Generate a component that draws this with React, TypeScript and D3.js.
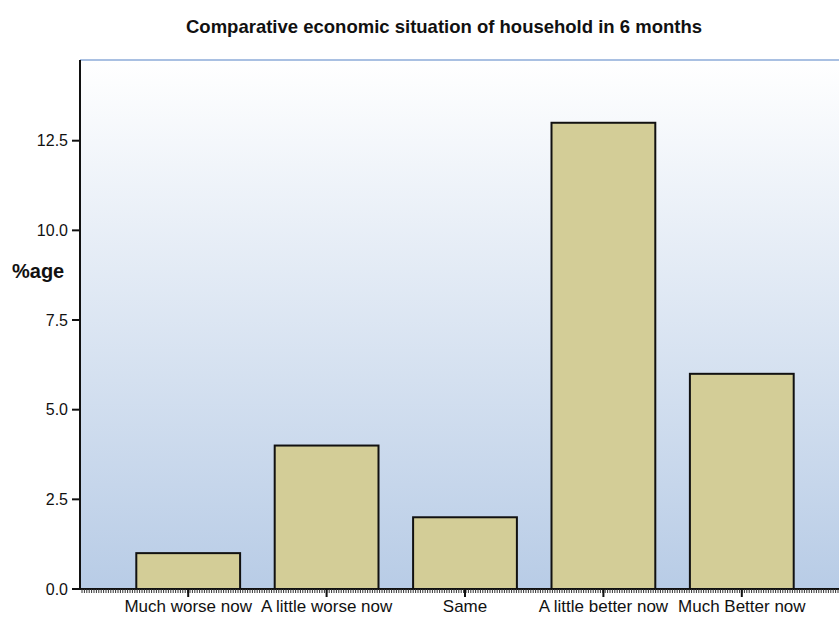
import * as d3 from 'd3';

// values (percent of households)
const categories = ['Much worse now', 'A little worse now', 'Same', 'A little better now', 'Much Better now'];
const percentages = [1, 4, 2, 13, 6];
const yTicks = [0, 2.5, 5, 7.5, 10, 12.5];

const width = 839;
const height = 617;
const plot = { left: 80, right: 839, top: 60, bottom: 589 };

export default function App() {
    const y = d3.scaleLinear().domain([0, 14.75]).range([plot.bottom, plot.top]);
    const x = d3.scaleBand<string>()
        .domain(categories)
        .range([119, 811])
        .paddingInner(0.25)
        .paddingOuter(0.125);

    // tiny minor ticks along the x axis
    const minor = d3.range(plot.left + 2, plot.right, 2.4);

    return (
        <svg width={width} height={height} style={{ position: 'absolute', left: 0, top: 0, fontFamily: '"Liberation Sans", Arial, sans-serif' }}>
            <defs>
                <linearGradient id="bg" x1="0" y1="0" x2="0" y2="1">
                    <stop offset="0%" stopColor="#ffffff" />
                    <stop offset="100%" stopColor="#b8cce6" />
                </linearGradient>
            </defs>
            <rect x={0} y={0} width={width} height={height} fill="#fff" />

            <text x={444} y={33} textAnchor="middle" fontSize={18.5} fontWeight="bold" fill="#111">
                Comparative economic situation of household in 6 months
            </text>

            <rect x={plot.left} y={plot.top} width={plot.right - plot.left} height={plot.bottom - plot.top} fill="url(#bg)" />
            <line x1={plot.left} x2={plot.right} y1={plot.top} y2={plot.top} stroke="#a9c0e2" strokeWidth={2} />

            {categories.map((c, i) => (
                <rect
                    key={c}
                    x={x(c)}
                    y={y(percentages[i])}
                    width={x.bandwidth()}
                    height={y(0) - y(percentages[i])}
                    fill="#d3cd97"
                    stroke="#111"
                    strokeWidth={2}
                />
            ))}

            {/* y axis */}
            <line x1={plot.left} x2={plot.left} y1={plot.top} y2={plot.bottom + 1} stroke="#111" strokeWidth={2} />
            {yTicks.map(t => (
                <g key={t} transform={`translate(0,${y(t)})`}>
                    <line x1={plot.left - 8} x2={plot.left} stroke="#111" strokeWidth={2} />
                    <text x={plot.left - 12} dy="0.35em" textAnchor="end" fontSize={16} fill="#111">
                        {t.toFixed(1)}
                    </text>
                </g>
            ))}
            <text x={12} y={278} fontSize={20} fontWeight="bold" fill="#111">%age</text>

            {/* x axis */}
            <line x1={plot.left} x2={plot.right} y1={plot.bottom} y2={plot.bottom} stroke="#111" strokeWidth={2} />
            {minor.map(m => (
                <line key={m} x1={m} x2={m} y1={plot.bottom} y2={plot.bottom + 4} stroke="#333" strokeWidth={1} />
            ))}
            {categories.map(c => {
                const cx = (x(c) ?? 0) + x.bandwidth() / 2;
                return (
                    <g key={c} transform={`translate(${cx},0)`}>
                        <line y1={plot.bottom} y2={plot.bottom + 8} stroke="#111" strokeWidth={2} />
                        <text y={612} textAnchor="middle" fontSize={17} fill="#111">{c}</text>
                    </g>
                );
            })}
        </svg>
    );
}
